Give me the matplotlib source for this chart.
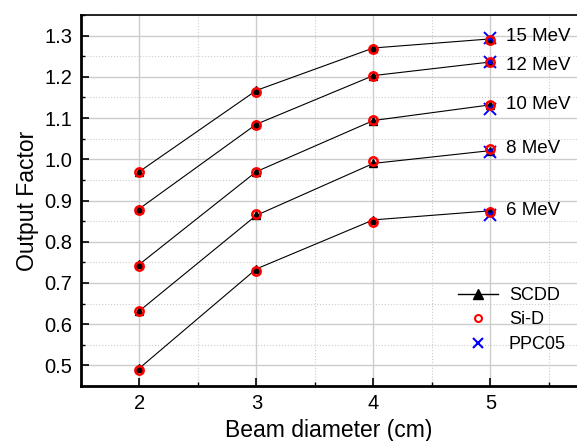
import matplotlib
matplotlib.use("Agg")
import matplotlib.pyplot as plt
from matplotlib.ticker import MultipleLocator
from matplotlib.lines import Line2D

plt.rcParams["font.family"] = ["Liberation Sans", "DejaVu Sans"]

diam = [2, 3, 4, 5]
energies = ["15 MeV", "12 MeV", "10 MeV", "8 MeV", "6 MeV"]
scdd = [
    [0.970, 1.167, 1.270, 1.292],
    [0.880, 1.085, 1.203, 1.236],
    [0.745, 0.970, 1.094, 1.132],
    [0.632, 0.864, 0.990, 1.021],
    [0.493, 0.734, 0.853, 0.875],
]
sid = [
    [0.968, 1.164, 1.268, 1.289],
    [0.878, 1.082, 1.202, 1.235],
    [0.742, 0.968, 1.095, 1.131],
    [0.632, 0.868, 0.996, 1.025],
    [0.489, 0.729, 0.847, 0.871],
]
ppc05 = [1.295, 1.237, 1.122, 1.017, 0.866]
label_y = [1.298, 1.227, 1.132, 1.027, 0.876]

fig = plt.figure(figsize=(5.77, 4.41), dpi=100)
ax = fig.add_axes([0.14, 0.1247, 0.86, 0.8413])

for s, d in zip(scdd, sid):
    ax.plot(diam, s, color="black", lw=0.8, marker="^", ms=5.5, zorder=3)
    ax.plot(diam, d, ls="none", marker="o", ms=6, mfc="none", mec="red", mew=1.8, zorder=5)
ax.plot([5] * len(ppc05), ppc05, ls="none", marker="x", ms=8, color="blue", mew=1.4, zorder=4)

for e, y in zip(energies, label_y):
    ax.text(5.13, y, e, fontsize=13.5, va="center", ha="left")

ax.set_xlim(1.5, 5.74)
ax.set_ylim(0.45, 1.35)
ax.xaxis.set_major_locator(MultipleLocator(1))
ax.xaxis.set_minor_locator(MultipleLocator(0.5))
ax.yaxis.set_major_locator(MultipleLocator(0.1))
ax.yaxis.set_minor_locator(MultipleLocator(0.05))
ax.grid(True, which="major", color="#cccccc", lw=1)
ax.grid(True, which="minor", color="#cccccc", lw=0.8, ls=":")
ax.set_axisbelow(True)
ax.tick_params(which="both", direction="in", labelsize=14.5, pad=6)
ax.tick_params(which="major", length=6, width=1.2)
ax.tick_params(which="minor", length=3, width=1)
ax.set_xlabel("Beam diameter (cm)", fontsize=16.5, labelpad=4)
ax.set_ylabel("Output Factor", fontsize=16.5, labelpad=4)
for sp in ["left", "bottom"]:
    ax.spines[sp].set_linewidth(2)
ax.spines["top"].set_linewidth(1.2)
ax.spines["right"].set_visible(False)

handles = [
    Line2D([], [], color="black", lw=1, marker="^", ms=7),
    Line2D([], [], ls="none", marker="o", ms=5, mfc="none", mec="red", mew=1.5),
    Line2D([], [], ls="none", marker="x", ms=7, color="blue", mew=1.5),
]
ax.legend(handles, ["SCDD", "Si-D", "PPC05"], loc="lower right", bbox_to_anchor=(1.01, 0.045),
          frameon=False, fontsize=13, handlelength=2.2, handletextpad=0.6, labelspacing=0.42)

fig.savefig("out.png", dpi=100)
